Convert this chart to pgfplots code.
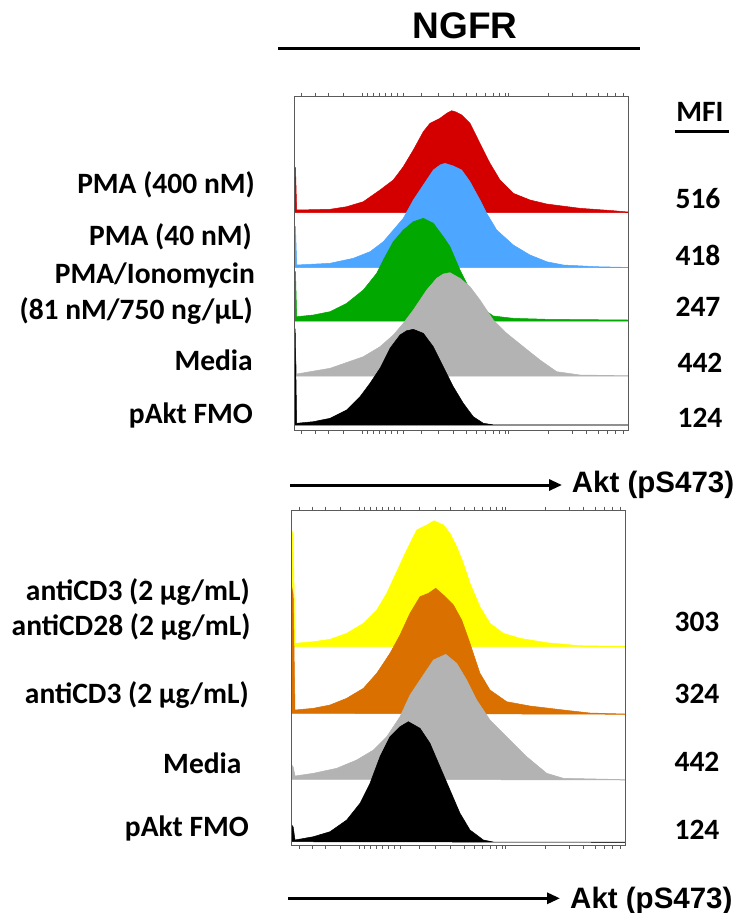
\documentclass[border=0pt]{standalone}
\usepackage{pgfplots}
\pgfplotsset{compat=1.18}
\usepackage{fontspec}
\setmainfont{Carlito}
\newfontfamily\arialfont{Liberation Sans}
\usetikzlibrary{arrows.meta}
\definecolor{cred}{RGB}{212,0,0}
\definecolor{cblue}{RGB}{77,166,255}
\definecolor{cgreen}{RGB}{0,168,0}
\definecolor{cgray}{RGB}{179,179,179}
\definecolor{cyellow}{RGB}{255,255,0}
\definecolor{corange}{RGB}{217,112,0}
\definecolor{frame}{RGB}{90,90,90}
\pgfplotsset{
  panel/.style={anchor=south west, scale only axis, width=334pt, height=334pt,
    xmin=0, xmax=334, ymin=0, ymax=334, axis on top,
    axis line style={draw=frame, line width=0.9pt},
    xtick={7.7,21,34,49,68,73,79,85,91,97,103,109,127.7,144,159,172.7,182.7,191,199,205,211,214,254,278,292,304,313,321,329},
    xticklabels={}, ytick=\empty, tick align=outside, major tick length=3.5pt,
    xtick style={draw=frame, line width=0.6pt}},
  hist/.style={fill=#1, draw=#1, line width=0.5pt}
}
\tikzset{lab/.style={anchor=base east, inner sep=0pt, font=\fontsize{29.5}{34}\selectfont\bfseries},
  val/.style={anchor=base, inner sep=0pt, font=\fontsize{29.5}{34}\selectfont\bfseries},
  akt/.style={anchor=base west, inner sep=0pt, font=\arialfont\fontsize{29.5}{34}\selectfont\bfseries}}
\begin{document}
\begin{tikzpicture}
\path[use as bounding box] (0pt,0pt) rectangle (739pt,-913pt);
% title
\node[anchor=base, inner sep=0pt, font=\arialfont\fontsize{37}{42}\selectfont\bfseries] at (465pt,-38.3pt) {NGFR};
\draw[line width=3pt] (278pt,-48.3pt) -- (640pt,-48.3pt);
% top panel
\begin{axis}[panel, at={(294pt,-430pt)}]
\addplot[hist=cred] coordinates {(0,217.3)(0,264)(1.5,262)(2.7,220)(36,220.7)(52.7,223.3)(69.3,228.3)(86,240)(99.3,250)(109.3,263.3)(119.3,280)(129.3,298.3)(136,306.7)(146,311.7)(152.7,316.7)(157.7,319.3)(162,318)(167.7,315)(176,306.7)(182.7,293.3)(189.3,280)(196,266.7)(206,250)(219.3,236.7)(236,230)(252.7,226)(286,221.7)(319.3,219.3)(334,218)(334,217.3)} -- cycle;
\addplot[hist=cblue] coordinates {(0,162.3)(0,205)(1.5,203)(2.7,165)(36,166.7)(59.3,171.7)(76,178.3)(89.3,188.3)(99.3,200)(109.3,211.7)(119.3,230)(129.3,245)(139.3,260)(146,265)(151,266.7)(159.3,264)(167.7,260)(176,248.3)(186,230)(192.7,216.7)(202.7,200)(219.3,185)(236,175)(252.7,168.3)(269.3,165)(302.7,163.3)(334,162.6)(334,162.3)} -- cycle;
\addplot[hist=cgreen] coordinates {(0,109)(0,160)(1.5,158)(2.7,113.3)(19.3,115)(36,118.3)(52.7,126.7)(69.3,140)(82.7,156.7)(89.3,170)(99.3,188.3)(109.3,200)(119.3,208.3)(129.3,211.7)(139.3,206.7)(149.3,193.3)(156,183.3)(166,160)(176,140)(186,123.3)(199.3,114)(219.3,111.7)(252.7,110.7)(334,110)(334,109)} -- cycle;
\addplot[hist=cgray] coordinates {(0,54)(0,80)(1.5,78)(2.7,56)(36,61.7)(69.3,73.3)(86,83.3)(99.3,95)(109.3,106.7)(119.3,120)(132.7,140)(142.7,151.7)(149.3,156)(156,157.3)(166,151.7)(176,143.3)(186,130)(199.3,110)(212.7,96.7)(229.3,83.3)(246,70)(262.7,58.3)(286,55)(334,54.3)(334,54)} -- cycle;
\addplot[hist=black] coordinates {(0,5)(0,105)(1.2,100)(2.7,6.7)(19.3,8.3)(36,11.7)(52.7,20)(66,33.3)(76,46.7)(86,61.7)(96,81.7)(106,95)(112.7,99.3)(119.3,100.7)(129.3,96.7)(139.3,83.3)(149.3,63.3)(159.3,43.3)(169.3,26.7)(179.3,13.3)(189.3,6.7)(199.3,5.2)(334,5.2)(334,5)} -- cycle;
\end{axis}
% bottom panel
\begin{axis}[panel, at={(291.7pt,-845pt)}, width=333.3pt, height=335pt, xmax=333.3, ymax=335]
\addplot[hist=cyellow] coordinates {(0,198.3)(0,315)(1.5,310)(3.3,201.7)(21.7,203.3)(38.3,205.7)(55,211.7)(71.7,221.7)(85,235)(95,251.7)(105,273.3)(115,295)(125,315)(135,320)(142.3,324.3)(151.7,320)(158.3,311.7)(165,298.3)(171.7,281.7)(178.3,261.7)(188.3,238.3)(198.3,221.7)(211.7,211.7)(228.3,206.7)(255,202.3)(288.3,199.3)(333.3,198.6)(333.3,198.3)} -- cycle;
\addplot[hist=corange] coordinates {(0,131.7)(0,258.3)(1.5,250)(3.3,135)(21.7,136.7)(38.3,140)(55,146.7)(71.7,156.7)(85,171.7)(98.3,191.7)(108.3,210)(118.3,231.7)(128.3,248.3)(136.7,251.7)(144,256.7)(151.7,250)(161.7,240)(170,225)(178.3,201.7)(188.3,171.7)(198.3,155)(215,143.3)(238.3,139)(271.7,135)(298.3,132)(333.3,131)(333.3,130.7)} -- cycle;
\addplot[hist=cgray] coordinates {(0,65.7)(0,80)(1.5,78)(3.3,69)(21.7,71.7)(45,76.7)(65,85)(81.7,95)(95,108.3)(108.3,128.3)(118.3,150)(128.3,165)(141.7,185)(154,190.7)(165,181.7)(175,165)(185,145)(198.3,125)(215,108.3)(235,88.3)(255,71.7)(271.7,66.7)(333.3,65.4)(333.3,65)} -- cycle;
\addplot[hist=black] coordinates {(0,3.3)(0,20)(1.5,18)(3.3,5)(21.7,8.3)(38.3,13.3)(55,25)(68.3,41.7)(78.3,61.7)(88.3,88.3)(98.3,108.3)(108.3,118.3)(116.7,123.3)(128.3,116.7)(138.3,101.7)(148.3,78.3)(158.3,55)(168.3,31.7)(178.3,15)(191.7,5)(201.7,3)(333.3,3)(333.3,2.7)} -- cycle;
\end{axis}
% top labels
\node[lab] at (255pt,-193.3pt) {PMA (400 nM)};
\node[lab] at (252pt,-245pt) {PMA (40 nM)};
\node[lab] at (255pt,-283.3pt) {PMA/Ionomycin};
\node[lab] at (253pt,-319.3pt) {(81 nM/750 ng/µL)};
\node[lab] at (253pt,-370.7pt) {Media};
\node[lab] at (253pt,-423.3pt) {pAkt FMO};
% MFI
\node[val] at (700pt,-121.7pt) {MFI};
\draw[line width=2.5pt] (675pt,-131.7pt) -- (729pt,-131.7pt);
\node[val] at (698pt,-208.3pt) {516};
\node[val] at (698pt,-265pt) {418};
\node[val] at (698pt,-316.7pt) {247};
\node[val] at (700pt,-372.5pt) {442};
\node[val] at (700pt,-427pt) {124};
% top arrow
\draw[line width=3pt, -{Triangle[length=13pt,width=11pt]}] (290pt,-485pt) -- (562pt,-485pt);
\node[akt] at (571.7pt,-492.3pt) {Akt (pS473)};
% bottom labels
\node[lab] at (250pt,-600.7pt) {antiCD3 (2 µg/mL)};
\node[lab] at (250.7pt,-635pt) {antiCD28 (2 µg/mL)};
\node[lab] at (249pt,-703.3pt) {antiCD3 (2 µg/mL)};
\node[lab] at (241.7pt,-773.3pt) {Media};
\node[lab] at (249pt,-836.7pt) {pAkt FMO};
\node[val] at (697pt,-631.7pt) {303};
\node[val] at (697pt,-703.3pt) {324};
\node[val] at (697pt,-771.7pt) {442};
\node[val] at (697pt,-839.3pt) {124};
% bottom arrow
\draw[line width=3pt, -{Triangle[length=13pt,width=11pt]}] (288pt,-898.3pt) -- (560pt,-898.3pt);
\node[akt] at (570pt,-908pt) {Akt (pS473)};
\end{tikzpicture}
\end{document}
